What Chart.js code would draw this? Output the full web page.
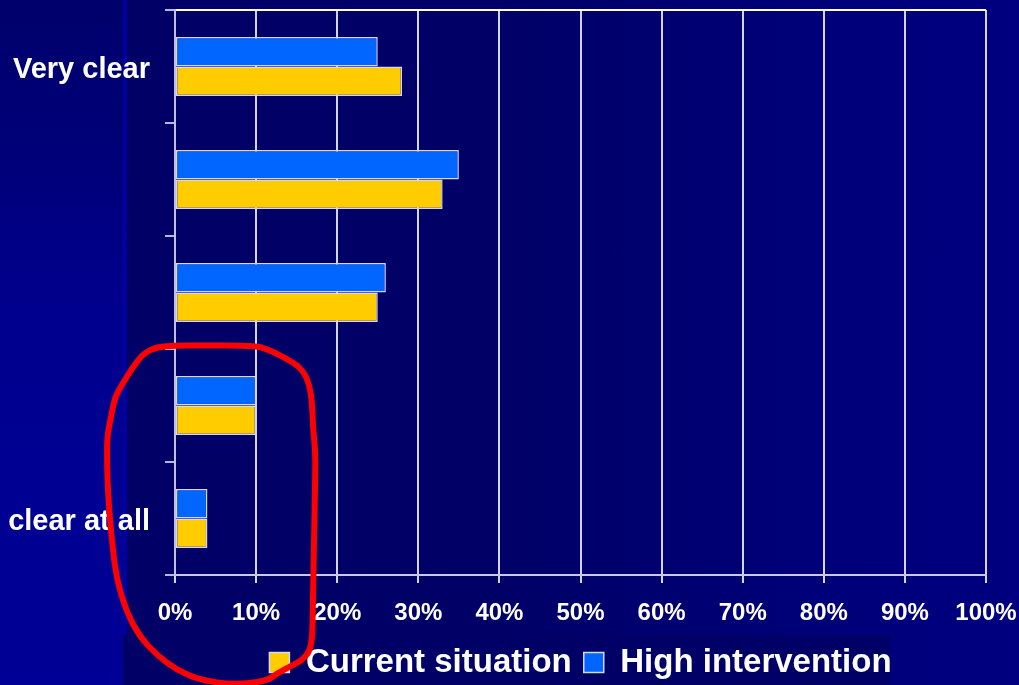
<!DOCTYPE html>
<html>
<head>
<meta charset="utf-8">
<script src="https://cdn.jsdelivr.net/npm/chart.js@4/dist/chart.umd.min.js"></script>
<style>
  html, body { margin: 0; padding: 0; }
  body { width: 1019px; height: 685px; overflow: hidden; position: relative; background: #000080; }
  .bg { position: absolute; }
  #side { left: 0; top: 0; width: 123px; height: 685px;
          background: linear-gradient(to bottom, #00006c 0%, #000078 22%, #00008e 45%, #000096 100%); }
  #edge { left: 123px; top: 0; width: 4px; height: 685px; background: #00009c; }
  #panel { left: 127px; top: 0; width: 892px; height: 685px;
           background: linear-gradient(to right, #000066 0%, #000066 40%, #00007a 80%, #000080 100%); }
  #legendBand { left: 123px; top: 635px; width: 767px; height: 50px; background: #000066; }
  canvas { position: absolute; left: 0; top: 0; }
</style>
</head>
<body>
<div class="bg" id="side"></div>
<div class="bg" id="edge"></div>
<div class="bg" id="panel"></div>
<div class="bg" id="legendBand"></div>
<canvas id="chart" width="1019" height="685"></canvas>
<script>
// Answer categories, top to bottom
const categories = ['Very clear', '', '', '', 'clear at all'];

// Share of respondents (%) per scenario
const currentSituation = [28, 33, 25, 10, 4];
const highIntervention = [25, 35, 26, 10, 4];

// Value axis labels
const xTickLabels = ['0%', '10%', '20%', '30%', '40%', '50%', '60%', '70%', '80%', '90%', '100%'];

// Hand-drawn red loop around the two lowest categories, in axis units [percent, category position]
const inkLoop = [
  [17.3, 3.39], [17.0, 3.19], [16.9, 2.95], [16.4, 2.77], [15.4, 2.66], [13.6, 2.58],
  [11.7, 2.51], [9.9, 2.47], [3.1, 2.47], [0, 2.47], [-2.2, 2.48], [-3.9, 2.54],
  [-5.2, 2.66], [-6.4, 2.80], [-7.4, 2.92], [-7.8, 3.07], [-8.3, 3.24], [-8.4, 3.39],
  [-8.3, 3.75], [-7.8, 4.19], [-7.2, 4.54], [-5.9, 4.84], [-4.3, 5.05], [-2.2, 5.21],
  [0.2, 5.34], [3.1, 5.43], [7.2, 5.47], [11.3, 5.44], [12.6, 5.37], [14.2, 5.31],
  [15.8, 5.25], [16.9, 5.14], [17.0, 4.78], [17.1, 4.37], [17.3, 3.60]
];

Chart.defaults.font.family = "'Liberation Sans', Arial, sans-serif";

// Closed, smoothed red marker stroke drawn over the finished chart
const inkPlugin = {
  id: 'inkLoop',
  afterDraw(chart) {
    const { ctx, scales } = chart;
    const pts = inkLoop.map(([v, c]) => [scales.x.getPixelForValue(v), scales.y.getPixelForValue(c)]);
    const n = pts.length;
    const mid = (a, b) => [(a[0] + b[0]) / 2, (a[1] + b[1]) / 2];
    ctx.save();
    ctx.strokeStyle = '#ff0000';
    ctx.lineWidth = 6;
    ctx.lineJoin = 'round';
    ctx.lineCap = 'round';
    ctx.beginPath();
    const start = mid(pts[0], pts[1]);
    ctx.moveTo(start[0], start[1]);
    for (let i = 1; i <= n; i++) {
      const p = pts[i % n];
      const m = mid(p, pts[(i + 1) % n]);
      ctx.quadraticCurveTo(p[0], p[1], m[0], m[1]);
    }
    ctx.stroke();
    ctx.restore();
  }
};

const barBorder = '#d6d6f2';

new Chart(document.getElementById('chart'), {
  type: 'bar',
  data: {
    labels: categories,
    datasets: [
      {
        label: 'High intervention',
        data: highIntervention,
        backgroundColor: '#0066ff',
        borderColor: barBorder,
        borderWidth: 1.5,
        borderSkipped: false,
        categoryPercentage: 0.52,
        barPercentage: 1
      },
      {
        label: 'Current situation',
        data: currentSituation,
        backgroundColor: '#ffcc00',
        borderColor: barBorder,
        borderWidth: 1.5,
        borderSkipped: false,
        categoryPercentage: 0.52,
        barPercentage: 1
      }
    ]
  },
  options: {
    indexAxis: 'y',
    responsive: false,
    animation: false,
    devicePixelRatio: 1,
    layout: { padding: { top: 10, right: 33, left: 0, bottom: -4 } },
    scales: {
      x: {
        min: 0,
        max: 100,
        ticks: {
          stepSize: 10,
          color: '#ffffff',
          font: { size: 24, weight: 'bold' },
          padding: 16,
          maxRotation: 0,
          callback: (value, index) => xTickLabels[index]
        },
        grid: { color: '#d4d4f0', lineWidth: 2, tickLength: 8, tickColor: '#d4d4f0' },
        border: { color: '#c8c8ec', width: 2 },
        afterFit: (scale) => {
          scale.height = 59;
          scale.paddingLeft = 0;
          scale.paddingRight = 0;
        }
      },
      y: {
        ticks: {
          color: '#ffffff',
          font: { size: 29, weight: 'bold' },
          padding: 15,
          labelOffset: 3
        },
        grid: {
          offset: true,
          color: (c) => (c.index === 0 ? '#ffffff' : 'rgba(0,0,0,0)'),
          lineWidth: 2,
          tickLength: 10,
          tickColor: '#b8b8dc'
        },
        border: { color: '#c0c0e0', width: 2 },
        afterFit: (scale) => {
          scale.width = 175;
          scale.paddingTop = 0;
          scale.paddingBottom = 0;
        }
      }
    },
    plugins: {
      legend: {
        position: 'bottom',
        fullSize: false,
        reverse: true,
        labels: {
          color: '#ffffff',
          font: { size: 33, weight: 'bold' },
          boxWidth: 20,
          boxHeight: 20,
          padding: 12
        }
      },
      tooltip: { enabled: false }
    }
  },
  plugins: [inkPlugin]
});
</script>
</body>
</html>
